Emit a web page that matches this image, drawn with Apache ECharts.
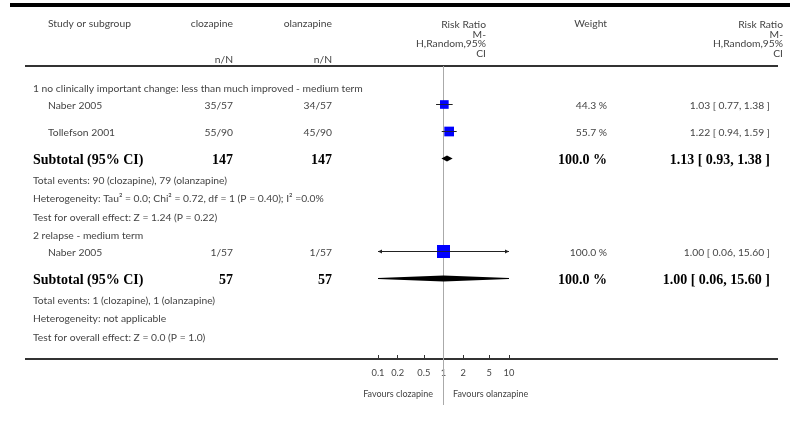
<!DOCTYPE html>
<html><head><meta charset="utf-8">
<script src="https://cdn.jsdelivr.net/npm/echarts@6/dist/echarts.min.js"></script>
<style>html,body{margin:0;padding:0;background:#fff}#c{width:790px;height:432px}</style>
</head><body><div id="c"></div>
<script>
// ---------- data ----------
var groupTitles = ["1 no clinically important change: less than much improved - medium term", "2 relapse - medium term"];
var studyNames = ["Naber 2005", "Tollefson 2001", "Naber 2005"];
var studyGroup = [0, 0, 1];
var cloEvents = [35, 55, 1];
var cloTotal = [57, 90, 57];
var olaEvents = [34, 45, 1];
var olaTotal = [57, 90, 57];
var studyRR = [1.03, 1.22, 1.00];
var studyLo = [0.77, 0.94, 0.06];
var studyHi = [1.38, 1.59, 15.60];
var studyWeight = [44.3, 55.7, 100.0];
var subRR = [1.13, 1.00];
var subLo = [0.93, 0.06];
var subHi = [1.38, 15.60];
var subWeight = [100.0, 100.0];
var subCloTotal = [147, 57];
var subOlaTotal = [147, 57];
var subCloEvents = [90, 1];
var subOlaEvents = [79, 1];
var heterogeneity = ["Heterogeneity: Tau\u00b2 = 0.0; Chi\u00b2 = 0.72, df = 1 (P = 0.40); I\u00b2 =0.0%", "Heterogeneity: not applicable"];
var overallTest = ["Test for overall effect: Z = 1.24 (P = 0.22)", "Test for overall effect: Z = 0.0 (P = 1.0)"];
var tickValues = [0.1, 0.2, 0.5, 1, 2, 5, 10];
var tickLabels = ["0.1", "0.2", "0.5", "1", "2", "5", "10"];
var favoursLeft = "Favours clozapine";
var favoursRight = "Favours olanzapine";

// ---------- layout ----------
var FONT = "Lato";
var SERIF = "Liberation Serif";
var TXT = "#444";
var FS = 10.3;
var rowStart = 87;
var rowGap = {title: 17.5, study: 27, subtotal: 20.5, events: 18.5, het: 18.5, test: 18};
var colName = 48, colSub = 33, colClo = 233, colOla = 332, colW = 607, colCI = 770;

function fmt2(v){ return v.toFixed(2); }
function fmtCI(a,b,c){ return fmt2(a) + " [ " + fmt2(b) + ", " + fmt2(c) + " ]"; }

// build rows
var rows = [];
var y = rowStart;
function push(kind, obj){ obj.kind = kind; obj.y = y; rows.push(obj); y += rowGap[kind]; }
for (var g = 0; g < groupTitles.length; g++) {
  push("title", {g: g});
  for (var s = 0; s < studyNames.length; s++) if (studyGroup[s] === g) push("study", {s: s});
  push("subtotal", {g: g});
  push("events", {g: g});
  push("het", {g: g});
  push("test", {g: g});
}

var graphics = [];
function txt(x, yy, t, o) {
  o = o || {};
  graphics.push({type: "text", x: x, y: yy, silent: true, style: {
    text: t, fill: o.fill || TXT,
    font: (o.bold ? "bold " : "") + (o.size || FS) + "px " + (o.family || FONT),
    align: o.align || "left", textAlign: o.align || "left",
    verticalAlign: "middle", textVerticalAlign: "middle"}});
}
function rule(x1, x2, yy, w, c) {
  graphics.push({type: "line", silent: true, shape: {x1: x1, y1: yy, x2: x2, y2: yy}, style: {stroke: c, lineWidth: w}});
}

// header
rule(10, 790, 5, 4, "#000");
rule(25, 778, 66, 2, "#333");
rule(25, 778, 359, 2, "#333");
txt(colName, 24, "Study or subgroup");
txt(colClo, 24, "clozapine", {align: "right"});
txt(colOla, 24, "olanzapine", {align: "right"});
txt(colClo, 60, "n/N", {align: "right"});
txt(colOla, 60, "n/N", {align: "right"});
txt(colW, 24, "Weight", {align: "right"});
var hdr = ["Risk Ratio", "M-", "H,Random,95%", "CI"];
for (var i = 0; i < hdr.length; i++) {
  txt(486, 25 + i * 9.5, hdr[i], {align: "right"});
  txt(783, 25 + i * 9.5, hdr[i], {align: "right"});
}

var studyData = [], diamondData = [];
rows.forEach(function(r){
  var ty = r.y + 1.5;
  if (r.kind === "title") txt(colSub, ty, groupTitles[r.g]);
  else if (r.kind === "study") {
    var s = r.s;
    txt(colName, ty, studyNames[s]);
    txt(colClo, ty, cloEvents[s] + "/" + cloTotal[s], {align: "right"});
    txt(colOla, ty, olaEvents[s] + "/" + olaTotal[s], {align: "right"});
    txt(colW, ty, studyWeight[s].toFixed(1) + " %", {align: "right"});
    txt(colCI, ty, fmtCI(studyRR[s], studyLo[s], studyHi[s]), {align: "right"});
    studyData.push([studyRR[s], r.y, studyLo[s], studyHi[s], studyWeight[s]]);
  } else if (r.kind === "subtotal") {
    var g = r.g, b = {bold: true, family: SERIF, size: 14, fill: "#000"};
    txt(colSub, ty, "Subtotal (95% CI)", b);
    txt(colClo, ty, String(subCloTotal[g]), Object.assign({align: "right"}, b));
    txt(colOla, ty, String(subOlaTotal[g]), Object.assign({align: "right"}, b));
    txt(colW, ty, subWeight[g].toFixed(1) + " %", Object.assign({align: "right"}, b));
    txt(colCI, ty, fmtCI(subRR[g], subLo[g], subHi[g]), Object.assign({align: "right"}, b));
    diamondData.push([subRR[g], r.y, subLo[g], subHi[g]]);
  } else if (r.kind === "events") {
    txt(colSub, ty, "Total events: " + subCloEvents[r.g] + " (clozapine), " + subOlaEvents[r.g] + " (olanzapine)");
  } else if (r.kind === "het") txt(colSub, ty, heterogeneity[r.g]);
  else if (r.kind === "test") txt(colSub, ty, overallTest[r.g]);
});
txt(433, 394, favoursLeft, {align: "right", size: 9});
txt(453, 394, favoursRight, {align: "left", size: 9});

var AX_MIN = 0.1, AX_MAX = 10;

var chart = echarts.init(document.getElementById("c"), null, {renderer: "canvas"});
chart.setOption({
  animation: false,
  backgroundColor: "#fff",
  grid: {left: 378, right: 281, top: 66, bottom: 27},
  xAxis: {
    type: "log", logBase: 10, min: AX_MIN, max: AX_MAX, offset: -46,
    axisLine: {show: false},
    splitLine: {show: false},
    axisTick: {show: true, inside: true, length: 4, customValues: tickValues, lineStyle: {color: "#333", width: 1}},
    axisLabel: {show: true, margin: 9, customValues: tickValues, color: TXT, fontFamily: FONT, fontSize: 9.3,
      formatter: function(v){ var k = tickValues.indexOf(+v); return k >= 0 ? tickLabels[k] : ""; }},
    minorTick: {show: false}
  },
  yAxis: {type: "value", min: 66, max: 405, inverse: true, show: false},
  graphic: graphics,
  series: [
    {
      type: "line", data: [], silent: true,
      markLine: {silent: true, symbol: "none", label: {show: false},
        lineStyle: {color: "#aaa", width: 1, type: "solid"}, data: [{xAxis: 1}]}
    },
    {
      type: "custom", data: studyData, silent: true, z: 5,
      renderItem: function(params, api){
        var rr = api.value(0), yy = api.value(1), lo = api.value(2), hi = api.value(3), w = api.value(4);
        var pc = api.coord([rr, yy]);
        var pl = api.coord([Math.max(lo, AX_MIN), yy]);
        var ph = api.coord([Math.min(hi, AX_MAX), yy]);
        var sz = 1.3 * Math.sqrt(w);
        var ch = [
          {type: "line", shape: {x1: pl[0], y1: pc[1], x2: ph[0], y2: pc[1]}, style: {stroke: "#222", lineWidth: 1}},
          {type: "rect", shape: {x: pc[0] - sz/2, y: pc[1] - sz/2, width: sz, height: sz}, style: {fill: "#0000ff"}},
          {type: "line", shape: {x1: Math.max(pl[0], pc[0]-sz/2-2), y1: pc[1], x2: Math.min(ph[0], pc[0]+sz/2+2), y2: pc[1]}, style: {stroke: "#222", lineWidth: 0.8}}
        ];
        if (lo < AX_MIN) ch.push({type: "polygon", shape: {points: [[pl[0], pc[1]], [pl[0]+4, pc[1]-2], [pl[0]+4, pc[1]+2]]}, style: {fill: "#222"}});
        if (hi > AX_MAX) ch.push({type: "polygon", shape: {points: [[ph[0], pc[1]], [ph[0]-4, pc[1]-2], [ph[0]-4, pc[1]+2]]}, style: {fill: "#222"}});
        return {type: "group", children: ch};
      }
    },
    {
      type: "custom", data: diamondData, silent: true, clip: true, z: 5,
      renderItem: function(params, api){
        var rr = api.value(0), yy = api.value(1), lo = api.value(2), hi = api.value(3);
        var pc = api.coord([rr, yy]), pl = api.coord([lo, yy]), ph = api.coord([hi, yy]);
        var h = 3;
        return {type: "polygon", shape: {points: [[pl[0], pc[1]], [pc[0], pc[1]-h], [ph[0], pc[1]], [pc[0], pc[1]+h]]}, style: {fill: "#000"}};
      }
    }
  ]
});
</script></body></html>
